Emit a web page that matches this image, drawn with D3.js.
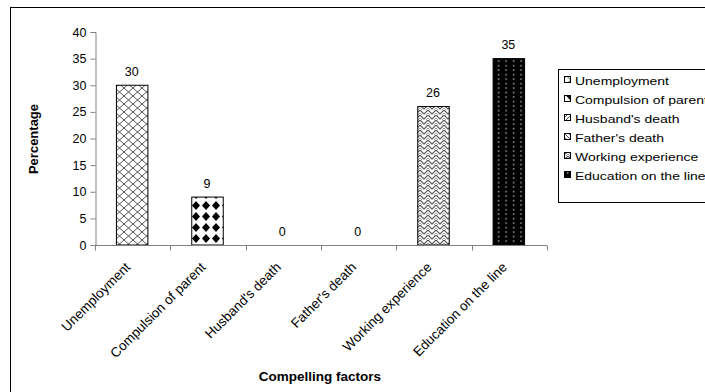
<!DOCTYPE html>
<html><head><meta charset="utf-8">
<script src="https://cdn.jsdelivr.net/npm/d3@7"></script>
<style>body{margin:0;background:#fff;overflow:hidden}svg{display:block;font-family:"Liberation Sans",Arial,sans-serif}</style>
</head><body>
<script>
const categories = ["Unemployment","Compulsion of parent","Husband's death","Father's death","Working experience","Education on the line"];
const values = [30, 9, 0, 0, 26, 35];
const yTicks = [0,5,10,15,20,25,30,35,40];
const patternIds = ["pCross","pDots","pHus","pFat","pWeave","pBlack"];

const W = 705, H = 392;
const svg = d3.select("body").append("svg").attr("width", W).attr("height", H);
const defs = svg.append("defs");

// patterns
let p = defs.append("pattern").attr("id","pCross").attr("patternUnits","userSpaceOnUse").attr("width",9).attr("height",8).attr("x",115).attr("y",0);
p.append("rect").attr("width",9).attr("height",8).attr("fill","#fff");
p.append("path").attr("d","M0,0L9,8M9,0L0,8").attr("stroke","#555").attr("stroke-width",1);

p = defs.append("pattern").attr("id","pDots").attr("patternUnits","userSpaceOnUse").attr("width",10).attr("height",11).attr("x",1).attr("y",2);
p.append("rect").attr("width",10).attr("height",11).attr("fill","#fff");
p.append("path").attr("d","M5,1L9,5.5L5,10L1,5.5Z").attr("fill","#000");

p = defs.append("pattern").attr("id","pHus").attr("patternUnits","userSpaceOnUse").attr("width",4).attr("height",4);
p.append("rect").attr("width",4).attr("height",4).attr("fill","#fff");
p.append("path").attr("d","M0,4L4,0").attr("stroke","#555").attr("stroke-width",1);

p = defs.append("pattern").attr("id","pFat").attr("patternUnits","userSpaceOnUse").attr("width",4).attr("height",4);
p.append("rect").attr("width",4).attr("height",4).attr("fill","#fff");
p.append("path").attr("d","M0,0L4,4").attr("stroke","#555").attr("stroke-width",1);

p = defs.append("pattern").attr("id","pWeave").attr("patternUnits","userSpaceOnUse").attr("width",8).attr("height",5);
p.append("rect").attr("width",8).attr("height",5).attr("fill","#fff");
p.append("path").attr("d","M0,4L4,0L8,4M-4,8L0,4M8,4L12,8").attr("stroke","#555").attr("stroke-width",1.1).attr("fill","none");
p.append("path").attr("d","M2,5L4,3L6,5").attr("stroke","#888").attr("stroke-width",0.8).attr("fill","none");

p = defs.append("pattern").attr("id","pBlack").attr("patternUnits","userSpaceOnUse").attr("width",7.5).attr("height",4.5);
p.append("rect").attr("width",7.5).attr("height",4.5).attr("fill","#000");
p.append("rect").attr("x",3).attr("y",2).attr("width",1.2).attr("height",1.2).attr("fill","#fff");

// outer frame
svg.append("rect").attr("x",10.5).attr("y",7.5).attr("width",720).attr("height",400).attr("fill","none").attr("stroke","#000").attr("stroke-width",1);

const x = d3.scaleBand().domain(categories).range([95, 547]).paddingInner(0).paddingOuter(0);
const y = d3.scaleLinear().domain([0,40]).range([245, 32]);

// bars
const barW = 31.5;
svg.selectAll("rect.bar").data(values).join("rect").attr("class","bar")
  .attr("x",(d,i)=>x(categories[i]) + x.bandwidth()/2 - barW/2 - 0.5)
  .attr("y",d=>y(d))
  .attr("width",barW)
  .attr("height",d=>y(0)-y(d))
  .attr("fill",(d,i)=>`url(#${patternIds[i]})`)
  .attr("stroke",(d)=> d>0 ? "#000" : "none").attr("stroke-width",1);

// value labels
svg.selectAll("text.val").data(values).join("text").attr("class","val")
  .attr("x",(d,i)=>x(categories[i]) + x.bandwidth()/2 - 1)
  .attr("y",d=>y(d)-9.5)
  .attr("text-anchor","middle").attr("font-size",12.5).attr("fill","#000")
  .text(d=>d);

// y axis
const yAxis = svg.append("g").attr("transform","translate(95.5,0)")
  .call(d3.axisLeft(y).tickValues(yTicks).tickSize(5).tickPadding(4));
yAxis.selectAll("path,line").attr("stroke","#808080");
yAxis.selectAll("text").attr("font-size",12.5).attr("fill","#000").attr("font-family","Liberation Sans, Arial, sans-serif");

// x axis
const xg = svg.append("g").attr("transform","translate(0,245.5)");
xg.append("line").attr("x1",95).attr("x2",547).attr("stroke","#808080");
const bounds = categories.map(c=>x(c)).concat([x(categories[categories.length-1])+x.bandwidth()]);
xg.selectAll("line.tk").data(bounds).join("line").attr("class","tk")
  .attr("x1",d=>Math.round(d)+0.5).attr("x2",d=>Math.round(d)+0.5).attr("y1",0).attr("y2",5).attr("stroke","#808080");
xg.selectAll("text.cat").data(categories).join("text").attr("class","cat")
  .attr("transform",d=>`translate(${x(d)+x.bandwidth()/2-1.5},22.5) rotate(-45)`)
  .attr("text-anchor","end").attr("font-size",13.5).attr("fill","#000")
  .text(d=>d);

// axis titles
svg.append("text").attr("transform","translate(38,139) rotate(-90)").attr("text-anchor","middle")
  .attr("font-size",13).attr("font-weight","bold").text("Percentage");
svg.append("text").attr("x",320).attr("y",381).attr("text-anchor","middle")
  .attr("font-size",13.5).attr("font-weight","bold").text("Compelling factors");

// legend
const lg = svg.append("g");
lg.append("rect").attr("x",558.5).attr("y",69.5).attr("width",200).attr("height",133).attr("fill","#fff").attr("stroke","#000");
const items = lg.selectAll("g.it").data(categories).join("g").attr("class","it")
  .attr("transform",(d,i)=>`translate(564,${80 + i*19})`);
items.append("rect").attr("x",0.5).attr("y",-3.5).attr("width",6).attr("height",6)
  .attr("fill",(d,i)=>`url(#${patternIds[i]})`).attr("stroke","#000");
items.append("text").attr("transform","translate(11,4.5) scale(1.25,1)").attr("font-size",11.2).attr("fill","#000").text(d=>d);
</script>
</body></html>
